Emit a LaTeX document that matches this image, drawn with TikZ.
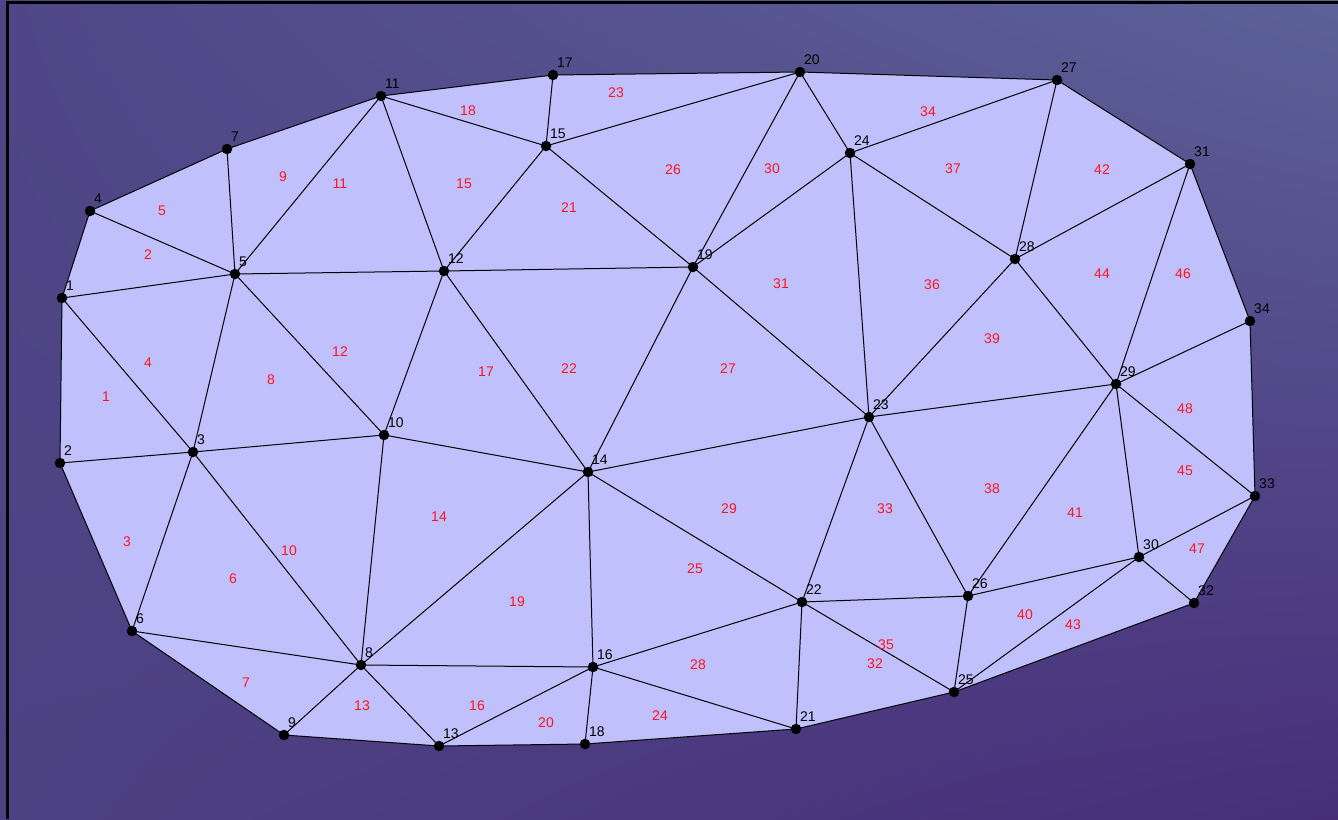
\documentclass[tikz,border=0pt]{standalone}
\usepackage{fontspec}
\setmainfont{Liberation Sans}
\usetikzlibrary{backgrounds,shadings}
\definecolor{meshfill}{RGB}{192,192,252}
\definecolor{bgUL}{RGB}{80,70,135}
\definecolor{bgUR}{RGB}{92,98,152}
\definecolor{bgLL}{RGB}{76,66,130}
\definecolor{bgLR}{RGB}{72,46,122}
\definecolor{trired}{RGB}{255,20,30}
\tikzset{
  vdot/.style={circle,fill=black,inner sep=0pt,minimum size=10.5pt},
  vlbl/.style={anchor=base west,inner sep=0pt,font=\fontsize{14}{16}\selectfont,text=black},
  trilbl/.style={inner sep=0pt,font=\fontsize{14}{16}\selectfont,text=trired},
  edge/.style={draw=black,line width=1pt},
}
\begin{document}
\begin{tikzpicture}[x=1pt,y=-1pt]
\useasboundingbox (0,0) rectangle (1338,819);
\foreach \i/\x/\y in {1/62/298,2/60/463,3/193/452,4/90/211,5/235/274,6/132/631,7/227/149,8/361/665,9/284/735,10/384/435,11/381/96,12/444/271,13/439/746,14/588/472,15/546/146,16/593/667,17/553/75,18/585/744,19/693/267,20/800/72,21/796/729,22/802/602,23/869/417,24/850/153,25/954/692,26/968/596,27/1057/80,28/1015/259,29/1116/384,30/1139/557,31/1190/164,32/1194/603,33/1255/496,34/1250/321}
{
  \node[vdot] (n\i) at (\x,\y) {};
  \node[vlbl] (l\i) at ([xshift=4pt,yshift=7.5pt]n\i.center) {\i};
}
\begin{pgfonlayer}{background}
  \shade[upper left=bgUL,upper right=bgUR,lower left=bgLL,lower right=bgLR] (0,0) rectangle (1338,819);
  \fill[meshfill] (n1.center) -- (n2.center) -- (n6.center) -- (n9.center) -- (n13.center) -- (n18.center) -- (n21.center) -- (n25.center) -- (n32.center) -- (n33.center) -- (n34.center) -- (n31.center) -- (n27.center) -- (n20.center) -- (n17.center) -- (n11.center) -- (n7.center) -- (n4.center) -- cycle;
  \draw[line width=3pt,black] (7.5,819) -- (7.5,2.5) -- (1338,2.5);
  \foreach \a/\b in {1/2,2/6,6/9,9/13,13/18,18/21,21/25,25/32,32/33,33/34,34/31,31/27,27/20,20/17,17/11,11/7,7/4,4/1,
    1/3,2/3,1/5,4/5,3/5,3/6,3/8,3/10,5/7,5/10,5/11,5/12,6/8,8/9,8/13,8/10,8/14,8/16,10/12,10/14,11/12,11/15,12/15,12/14,12/19,13/16,15/17,15/19,15/20,14/16,14/19,14/22,14/23,16/18,16/21,16/22,19/20,19/23,19/24,20/24,21/22,22/23,22/25,22/26,23/24,23/26,23/28,23/29,24/27,24/28,25/26,25/30,26/29,26/30,27/28,28/29,28/31,29/30,29/31,29/33,29/34,30/33,30/32}
    \draw[edge] (n\a.center) -- (n\b.center);
\end{pgfonlayer}
\foreach \t/\x/\y in {1/106/397,2/148/255,3/127/542,4/148/363,5/162/211,6/233/579,7/246/683,8/271/380,9/283/177,10/289/551,11/340/184,12/340/352,13/362/706,14/439/517,15/464/184,16/477/706,17/486/372,18/468/111,19/517/602,20/546/723,21/569/208,22/569/369,23/616/93,24/660/716,25/695/569,26/673/170,27/728/369,28/698/665,29/729/509,30/772/169,31/781/284,32/875/664,33/885/509,34/928/112,35/886/645,36/932/285,37/953/169,38/992/489,39/992/339,40/1025/615,41/1075/513,42/1102/170,43/1073/625,44/1102/274,45/1185/471,46/1183/274,47/1197/549,48/1185/409}
  \node[trilbl] (t\t) at (\x,\y) {\t};
\end{tikzpicture}
\end{document}
